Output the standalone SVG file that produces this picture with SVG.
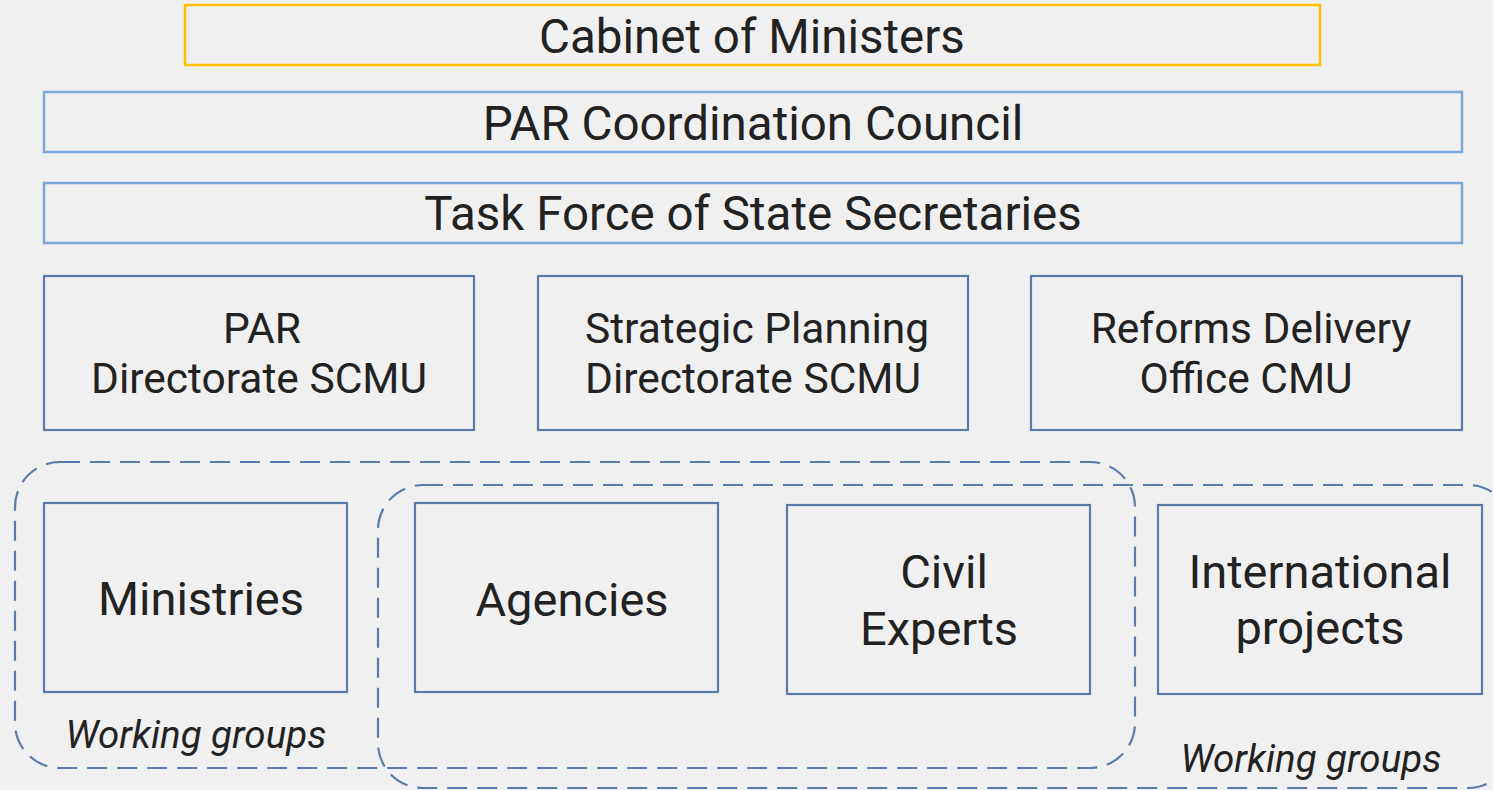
<svg xmlns="http://www.w3.org/2000/svg" width="1493" height="790" viewBox="0 0 1493 790">
<style>
text{font-family:Roboto,"Liberation Sans",sans-serif;fill:#222;text-anchor:middle}
.t1{font-size:47.5px}
.t2{font-size:42.5px}
.t3{font-size:47px}
.wg{font-size:38.5px;font-style:italic}
.top{fill:none;stroke:#FFC000;stroke-width:2.5}
.lb{fill:none;stroke:#7EA6D8;stroke-width:2.5}
.db{fill:none;stroke:#5B7CA8;stroke-width:2.2}
.dash{fill:none;stroke:#5B7CA8;stroke-width:2.2;stroke-dasharray:20 10}
</style>
<rect width="1493" height="790" fill="#F0F0F0"/>
<g id="groups">
<rect class="dash" x="15" y="462" width="1120" height="306" rx="45" ry="45"/>
<rect class="dash" x="378" y="485" width="1135" height="303" rx="45" ry="45"/>
<text class="wg" x="196" y="748">Working groups</text>
<text class="wg" x="1311" y="772">Working groups</text>
</g>
<g id="cabinet">
<rect class="top" x="185" y="5" width="1135" height="60"/>
<text class="t1" x="752" y="53">Cabinet of Ministers</text>
</g>
<g id="council">
<rect class="lb" x="44" y="92" width="1418" height="60"/>
<text class="t1" x="753" y="140">PAR Coordination Council</text>
</g>
<g id="taskforce">
<rect class="lb" x="44" y="183" width="1418" height="60"/>
<text class="t1" x="753" y="230">Task Force of State Secretaries</text>
</g>
<g id="par-directorate">
<rect class="db" x="44" y="276" width="430" height="154"/>
<text class="t2" x="262" y="343">PAR</text>
<text class="t2" x="259" y="393">Directorate SCMU</text>
</g>
<g id="strategic-planning">
<rect class="db" x="538" y="276" width="430" height="154"/>
<text class="t2" x="757" y="343">Strategic Planning</text>
<text class="t2" x="753" y="393">Directorate SCMU</text>
</g>
<g id="reforms-delivery">
<rect class="db" x="1031" y="276" width="431" height="154"/>
<text class="t2" x="1251" y="343">Reforms Delivery</text>
<text class="t2" x="1246" y="393">Office CMU</text>
</g>
<g id="ministries">
<rect class="db" x="44" y="503" width="303" height="189"/>
<text class="t3" x="201" y="615">Ministries</text>
</g>
<g id="agencies">
<rect class="db" x="415" y="503" width="303" height="189"/>
<text class="t3" x="572" y="616">Agencies</text>
</g>
<g id="civil-experts">
<rect class="db" x="787" y="505" width="303" height="189"/>
<text class="t3" x="944" y="588">Civil</text>
<text class="t3" x="939" y="645">Experts</text>
</g>
<g id="international-projects">
<rect class="db" x="1158" y="505" width="324" height="189"/>
<text class="t3" x="1320" y="588">International</text>
<text class="t3" x="1320" y="644">projects</text>
</g>
<g id="connectors"></g>
</svg>
